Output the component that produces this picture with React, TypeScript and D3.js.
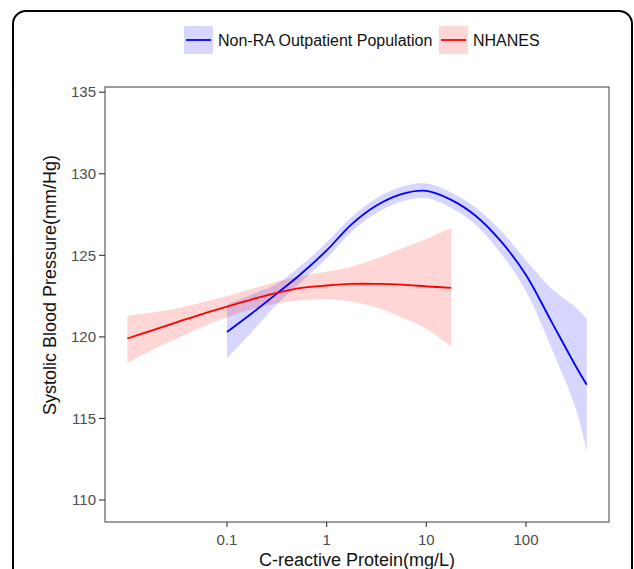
import React from "react";
import * as d3 from "d3";

// Log10 of CRP (mg/L) for each series
const nhanesLogCrp = [-2.0, -1.75, -1.5, -1.25, -1.0, -0.75, -0.5, -0.25, 0, 0.25, 0.5, 0.75, 1.0, 1.25];
const nhanesFit = [119.9, 120.4, 120.9, 121.4, 121.85, 122.3, 122.7, 123.0, 123.15, 123.25, 123.25, 123.2, 123.1, 123.0];
const nhanesUpper = [121.3, 121.5, 121.75, 122.1, 122.5, 122.95, 123.4, 123.75, 124.0, 124.3, 124.8, 125.4, 126.0, 126.7];
const nhanesLower = [118.4, 119.2, 119.9, 120.6, 121.2, 121.7, 122.05, 122.25, 122.3, 122.15, 121.8, 121.2, 120.5, 119.4];

const nonRaLogCrp = [-1.0, -0.75, -0.5, -0.25, 0, 0.25, 0.5, 0.75, 1.0, 1.25, 1.5, 1.75, 2.0, 2.25, 2.5, 2.61];
const nonRaFit = [120.3, 121.45, 122.65, 123.9, 125.3, 126.9, 128.05, 128.75, 128.95, 128.4, 127.4, 125.85, 123.8, 121.0, 118.2, 117.06];
const nonRaUpper = [122.0, 122.6, 123.25, 124.4, 125.8, 127.35, 128.5, 129.2, 129.4, 128.85, 127.9, 126.5, 124.7, 123.0, 121.8, 121.1];
const nonRaLower = [118.7, 120.3, 122.0, 123.4, 124.8, 126.45, 127.6, 128.3, 128.5, 127.9, 126.85, 125.1, 122.8, 119.4, 115.6, 113.0];

const xTicks = [0.1, 1, 10, 100];
const xTickLabels = ["0.1", "1", "10", "100"];
const yTicks = [110, 115, 120, 125, 130, 135];

const seriesNames = ["Non-RA Outpatient Population", "NHANES"];
const lineColors = ["#0000ff", "#ff0000"];
const fillColors = ["rgba(0,0,255,0.16)", "rgba(255,0,0,0.16)"];

const FONT = "'Liberation Sans', Arial, sans-serif";

type Pt = { c: number; f: number; u: number; l: number };

function build(logs: number[], fit: number[], up: number[], lo: number[]): Pt[] {
  return logs.map((g, i) => ({ c: Math.pow(10, g), f: fit[i], u: up[i], l: lo[i] }));
}

export default function App() {
  const W = 634, H = 569;
  const left = 105, right = 609, top = 87, bottom = 522;

  const x = d3.scaleLog().domain([Math.pow(10, -2.224), Math.pow(10, 2.833)]).range([left, right]);
  const y = d3.scaleLinear().domain([108.65, 135.32]).range([bottom, top]);

  const series = [
    build(nonRaLogCrp, nonRaFit, nonRaUpper, nonRaLower),
    build(nhanesLogCrp, nhanesFit, nhanesUpper, nhanesLower),
  ];

  const curve = d3.curveCatmullRom.alpha(0.5);
  const line = d3.line<Pt>().x(d => x(d.c)).y(d => y(d.f)).curve(curve);
  const area = d3.area<Pt>().x(d => x(d.c)).y0(d => y(d.l)).y1(d => y(d.u)).curve(curve);

  const legendItems = [
    { key: 184, text: 218 },
    { key: 439, text: 473 },
  ];

  return (
    <svg width={W} height={H} style={{ position: "absolute", left: 0, top: 0, background: "#fff" }} fontFamily={FONT}>
      <rect x={0} y={0} width={W} height={H} fill="#fff" />
      <rect x={13} y={11} width={619} height={620} rx={13} ry={13} fill="none" stroke="#000" strokeWidth={2} />

      {/* legend */}
      {legendItems.map((it, i) => (
        <g key={i}>
          <rect x={it.key} y={26} width={29} height={28} fill={fillColors[i]} />
          <line x1={it.key + 2} x2={it.key + 27} y1={40} y2={40} stroke={lineColors[i]} strokeWidth={1.8} />
          <text x={it.text} y={40} dy="0.35em" fontSize={16} fill="#111">{seriesNames[i]}</text>
        </g>
      ))}

      {/* bands */}
      <clipPath id="panel">
        <rect x={left} y={top} width={right - left} height={bottom - top} />
      </clipPath>
      <g clipPath="url(#panel)">
        {series.map((s, i) => (
          <path key={"a" + i} d={area(s) || ""} fill={fillColors[i]} stroke="none" />
        ))}
        {series.map((s, i) => (
          <path key={"l" + i} d={line(s) || ""} fill="none" stroke={lineColors[i]} strokeWidth={1.8} />
        ))}
      </g>

      {/* panel border */}
      <rect x={left} y={top} width={right - left} height={bottom - top} fill="none" stroke="#4d4d4d" strokeWidth={1.1} />

      {/* y axis */}
      {yTicks.map(t => (
        <g key={t}>
          <line x1={left - 6} x2={left} y1={y(t)} y2={y(t)} stroke="#333" strokeWidth={1.1} />
          <text x={left - 9} y={y(t)} dy="0.35em" textAnchor="end" fontSize={15} fill="#4d4d4d">{t}</text>
        </g>
      ))}
      {/* x axis */}
      {xTicks.map((t, i) => (
        <g key={t}>
          <line x1={x(t)} x2={x(t)} y1={bottom} y2={bottom + 5} stroke="#333" strokeWidth={1.1} />
          <text x={x(t)} y={bottom + 18} dy="0.35em" textAnchor="middle" fontSize={15} fill="#4d4d4d">{xTickLabels[i]}</text>
        </g>
      ))}

      <text x={(left + right) / 2} y={566} textAnchor="middle" fontSize={18} fill="#111">C-reactive Protein(mg/L)</text>
      <text transform={`translate(50,285) rotate(-90)`} dy="0.35em" textAnchor="middle" fontSize={18} fill="#111">Systolic Blood Pressure(mm/Hg)</text>
    </svg>
  );
}
